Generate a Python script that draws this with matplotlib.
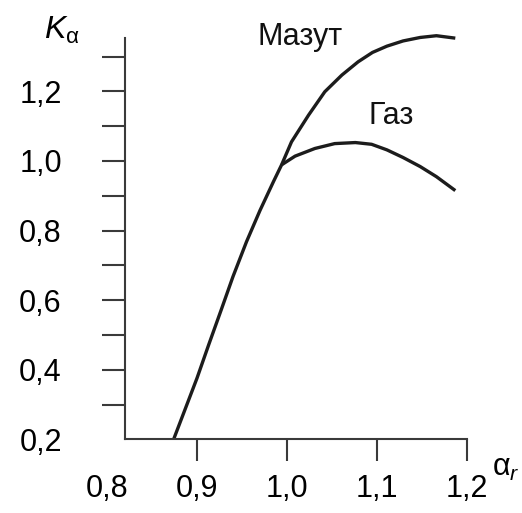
import matplotlib
matplotlib.use('Agg')
import matplotlib.pyplot as plt
import numpy as np

plt.rcParams['font.family'] = 'Liberation Sans'
plt.rcParams['mathtext.fontset'] = 'custom'
plt.rcParams['mathtext.rm'] = 'Liberation Sans'
plt.rcParams['mathtext.it'] = 'Liberation Sans:italic'

# common rising branch
rise_x = [0.874, 0.887, 0.900, 0.913, 0.927, 0.940, 0.955, 0.970, 0.985, 0.994]
rise_y = [0.200, 0.288, 0.376, 0.472, 0.573, 0.668, 0.768, 0.858, 0.941, 0.989]

mazut_x = [0.994, 1.005, 1.024, 1.042, 1.061, 1.079, 1.095, 1.111, 1.129, 1.148, 1.166, 1.187]
mazut_y = [0.989, 1.055, 1.132, 1.199, 1.247, 1.285, 1.312, 1.330, 1.345, 1.355, 1.360, 1.353]

gas_x = [0.994, 1.009, 1.031, 1.053, 1.076, 1.094, 1.111, 1.129, 1.148, 1.166, 1.187]
gas_y = [0.989, 1.014, 1.036, 1.050, 1.053, 1.048, 1.032, 1.010, 0.984, 0.955, 0.915]

x_ticks = [0.8, 0.9, 1.0, 1.1, 1.2]
x_labels = ['0,8', '0,9', '1,0', '1,1', '1,2']
y_ticks = [0.2, 0.4, 0.6, 0.8, 1.0, 1.2]
y_labels = ['0,2', '0,4', '0,6', '0,8', '1,0', '1,2']
y_minor = [0.3, 0.5, 0.7, 0.9, 1.1, 1.3]

line_col = '#1c1c1c'
axis_col = '#3a3a3a'
fs = 22

fig = plt.figure(figsize=(5.22, 5.13), dpi=100)
ax = fig.add_axes([107/522, (513-439.4)/513, 405/522, 0.80])
ax.set_xlim(0.8, 1.25)
# y pixel scale: 348 px per 1.0
ax.set_ylim(0.2, 0.2 + 0.80*513/348)

ax.plot(rise_x + mazut_x[1:], rise_y + mazut_y[1:], color=line_col, lw=2.4,
        solid_capstyle='butt', solid_joinstyle='round')
ax.plot(gas_x, gas_y, color=line_col, lw=2.4, solid_capstyle='butt', solid_joinstyle='round')

ax.text(1.0144, 1.356, 'Мазут', fontsize=fs, ha='center', va='center', color='#111')
ax.text(1.116, 1.128, 'Газ', fontsize=fs, ha='center', va='center', color='#111')

for s in ['top', 'right']:
    ax.spines[s].set_visible(False)
ax.spines['left'].set_position(('data', 0.82))
ax.spines['left'].set_bounds(0.2, 1.353)
ax.spines['bottom'].set_bounds(0.82, 1.2)
for s in ['left', 'bottom']:
    ax.spines[s].set_color(axis_col)
    ax.spines[s].set_linewidth(1.5)

ax.set_xticks(x_ticks)
ax.set_xticklabels(x_labels, fontsize=fs)
ax.set_yticks(y_ticks)
ax.set_yticklabels(y_labels, fontsize=fs)
ax.set_yticks(y_minor, minor=True)
ax.tick_params(axis='x', direction='out', length=16, width=1.5, color=axis_col, pad=9)
ax.tick_params(axis='y', which='both', direction='out', length=16.5, width=1.5,
               color=axis_col, pad=29)
ax.tick_params(axis='y', which='minor', labelleft=False)
ax.xaxis.get_major_ticks()[0].tick1line.set_visible(False)
ax.yaxis.get_major_ticks()[0].tick1line.set_visible(False)

fig.text(62/522, 1 - 30/513, r'$K_{\mathrm{α}}$', fontsize=fs + 1, ha='center', va='center')
fig.text(506/522, 1 - 468/513, r'$\mathrm{α}_{r}$', fontsize=fs, ha='center', va='center')

fig.savefig('out.png', dpi=100)
